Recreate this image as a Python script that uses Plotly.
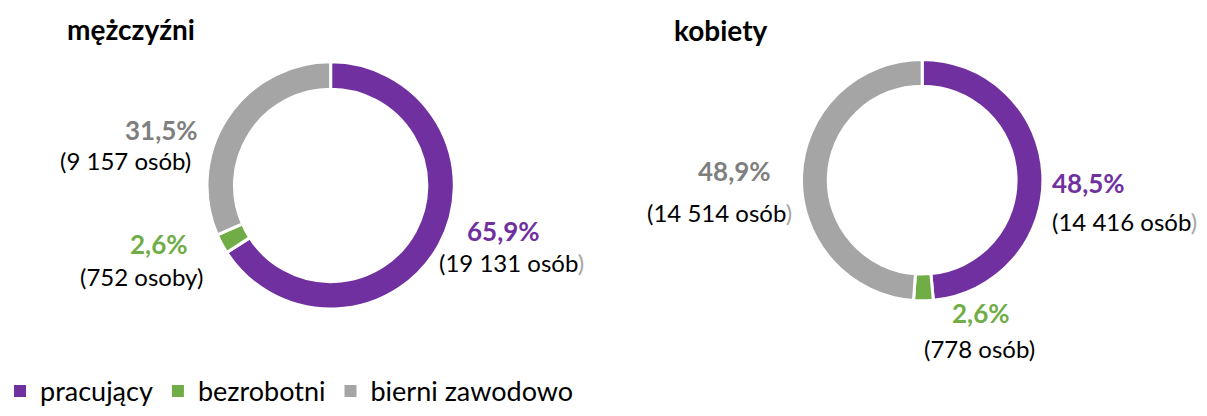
import plotly.graph_objects as go

W, H = 1207, 416

categories = ["pracujący", "bezrobotni", "bierni zawodowo"]
colors = ["#7030A0", "#70AD47", "#A5A5A5"]
pct_colors = ["#7030A0", "#70AD47", "#7F7F7F"]

men_values = [19131, 752, 9157]
men_pct = ["65,9%", "2,6%", "31,5%"]
men_counts = ["(19 131 osób", "(752 osoby", "(9 157 osób"]
men_paren_grey = [True, False, False]

women_values = [14416, 778, 14514]
women_pct = ["48,5%", "2,6%", "48,9%"]
women_counts = ["(14 416 osób", "(778 osób", "(14 514 osób"]
women_paren_grey = [True, False, True]

titles = ["mężczyźni", "kobiety"]

FONT = "Lato"


def px(x, y):
    return x / W, 1 - y / H


def domain(cx, cy, r):
    return dict(x=[(cx - r) / W, (cx + r) / W], y=[1 - (cy + r) / H, 1 - (cy - r) / H])


fig = go.Figure()
for vals, dom in [(men_values, domain(327, 190.5, 127)), (women_values, domain(921, 185, 124))]:
    fig.add_trace(go.Pie(
        labels=categories, values=vals, hole=0.778, sort=False, direction="clockwise",
        rotation=0, textinfo="none", hoverinfo="label+value+percent", showlegend=False,
        marker=dict(colors=colors, line=dict(color="white", width=3)),
        domain=dom,
    ))

# legend entries (square swatches)
for cat, col in zip(categories, colors):
    fig.add_trace(go.Scatter(x=[None], y=[None], mode="markers", name=cat,
                             marker=dict(symbol="square", size=12, color=col),
                             showlegend=True, hoverinfo="skip"))

annotations = []
for t, (x, y) in zip(titles, [(127, 30), (719, 31)]):
    ax, ay = px(x, y)
    annotations.append(dict(text="<b>%s</b>" % t, x=ax, y=ay, xref="paper", yref="paper",
                            showarrow=False, font=dict(family=FONT, size=28, color="black"),
                            xanchor="center", yanchor="middle"))

men_pos_pct = [(501, 237), (155, 251), (157, 134)]
men_pos_cnt = [(509, 270), (137, 284), (121, 165)]
women_pos_pct = [(1088, 188), (980, 322), (733, 176)]
women_pos_cnt = [(1124, 228), (979, 358), (717, 218)]


def add_labels(pcts, counts, greys, pos_pct, pos_cnt):
    for i in range(3):
        ax, ay = px(*pos_pct[i])
        annotations.append(dict(text="<b>%s</b>" % pcts[i], x=ax, y=ay, xref="paper", yref="paper",
                                showarrow=False, font=dict(family=FONT, size=26, color=pct_colors[i]),
                                xanchor="center", yanchor="middle"))
        close = "<span style='color:#A5A5A5'>)</span>" if greys[i] else ")"
        ax, ay = px(*pos_cnt[i])
        annotations.append(dict(text=counts[i] + close, x=ax, y=ay, xref="paper", yref="paper",
                                showarrow=False, font=dict(family=FONT, size=24, color="black"),
                                xanchor="center", yanchor="middle"))


add_labels(men_pct, men_counts, men_paren_grey, men_pos_pct, men_pos_cnt)
add_labels(women_pct, women_counts, women_paren_grey, women_pos_pct, women_pos_cnt)

fig.update_layout(
    width=W, height=H, margin=dict(l=0, r=0, t=0, b=0),
    paper_bgcolor="white", plot_bgcolor="white",
    annotations=annotations,
    xaxis=dict(visible=False), yaxis=dict(visible=False),
    showlegend=True,
    legend=dict(orientation="h", x=-5 / W, y=1 - 402 / H, xanchor="left", yanchor="middle",
                font=dict(family=FONT, size=27, color="black"), traceorder="normal",
                itemclick=False, bgcolor="rgba(0,0,0,0)"),
)

fig.write_html("out.html", config={"displayModeBar": False},
               post_script="document.body.style.margin='0';")
